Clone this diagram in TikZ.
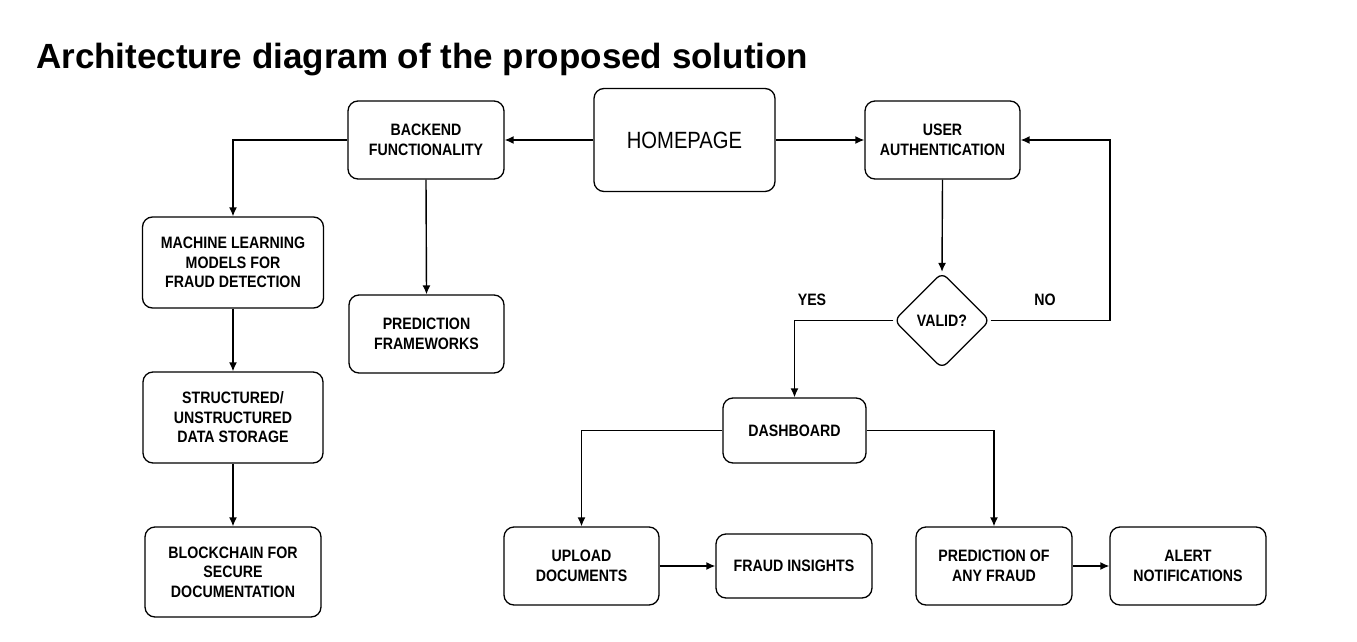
\documentclass[tikz,border=0pt]{standalone}
\usepackage{fontspec}
\setmainfont{Liberation Sans}
\newfontfamily\labfont[FakeStretch=0.86]{Liberation Sans}
\usetikzlibrary{arrows.meta,shapes.geometric}

\begin{document}
\begin{tikzpicture}[x=1pt,y=-1pt,
 box/.style={draw,rounded corners=10pt,line width=1.3pt,inner sep=0pt,align=center,
   font=\labfont\bfseries\fontsize{16.5}{19.5}\selectfont},
 lbl/.style={inner sep=0pt,font=\labfont\bfseries\fontsize{16.5}{19.5}\selectfont},
 arr/.style={line width=1.4pt,-{Latex[length=9pt,width=8pt]}}]
\useasboundingbox[fill=white] (0,0) rectangle (1357,642);

\node[anchor=base west,inner sep=0pt,font=\bfseries\fontsize{35}{40}\selectfont] (title) at (36,68) {Architecture diagram of the proposed solution};

\node[box,minimum width=181pt,minimum height=103pt,font=\labfont\fontsize{23.5}{28}\selectfont] (home) at (684.5,140) {HOMEPAGE};
\node[box,minimum width=156pt,minimum height=78pt] (be) at (426,140) {BACKEND\\FUNCTIONALITY};
\node[box,minimum width=155pt,minimum height=78pt] (ua) at (942.5,140) {USER\\AUTHENTICATION};
\node[box,minimum width=181pt,minimum height=91pt] (ml) at (233,262.5) {MACHINE LEARNING\\MODELS FOR\\FRAUD DETECTION};
\node[box,minimum width=155pt,minimum height=78pt] (pf) at (426.5,334) {PREDICTION\\FRAMEWORKS};
\node[box,minimum width=180pt,minimum height=91pt] (sd) at (233,417.5) {STRUCTURED/\\UNSTRUCTURED\\DATA STORAGE};
\node[box,minimum width=176pt,minimum height=90pt] (bc) at (233,572) {BLOCKCHAIN FOR\\SECURE\\DOCUMENTATION};
\node[box,shape=diamond,rounded corners=7pt,minimum width=96pt,minimum height=96pt] (valid) at (942,320.5) {VALID?};
\node[box,minimum width=143pt,minimum height=65pt] (db) at (794.5,430.5) {DASHBOARD};
\node[box,minimum width=155pt,minimum height=78pt] (up) at (581.5,566) {UPLOAD\\DOCUMENTS};
\node[box,minimum width=156pt,minimum height=64pt] (fi) at (794,566) {FRAUD INSIGHTS};
\node[box,minimum width=156pt,minimum height=78pt] (pa) at (994,566) {PREDICTION OF\\ANY FRAUD};
\node[box,minimum width=156pt,minimum height=78pt] (al) at (1188,566) {ALERT\\NOTIFICATIONS};

\node[lbl] (yes) at (812,300) {YES};
\node[lbl] (no) at (1045,300) {NO};

\coordinate (nc) at (1110,320.5);

\draw[arr] (home.west) -- (be.east);
\draw[arr] (home.east) -- (ua.west);
\draw[arr] (be.west) -| (ml.north);
\draw[arr] (be.south) -- (pf.north);
\draw[arr] (ml.south) -- (sd.north);
\draw[arr] (sd.south) -- (bc.north);
\draw[arr] (ua.south) -- (valid.north);
\draw[arr] (valid.east) -- (nc) |- (ua.east);
\draw[arr] (valid.west) -| (db.north);
\draw[arr] (db.west) -| (up.north);
\draw[arr] (db.east) -| (pa.north);
\draw[arr] (up.east) -- (fi.west);
\draw[arr] (pa.east) -- (al.west);
\end{tikzpicture}
\end{document}
